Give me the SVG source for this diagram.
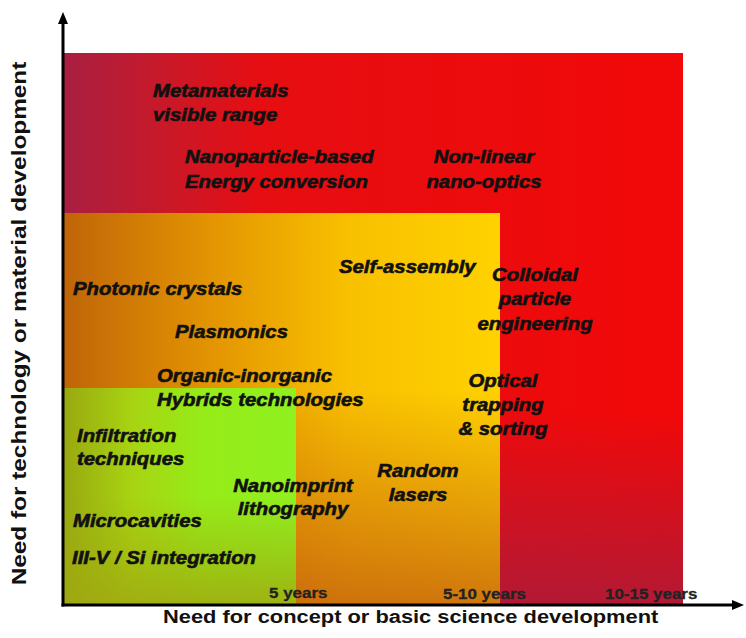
<svg xmlns="http://www.w3.org/2000/svg" width="746" height="638" viewBox="0 0 746 638">
<style>
.lbl{font-family:"Liberation Sans",Arial,sans-serif;font-weight:bold;font-style:italic;font-size:18px;fill:#111;stroke:#111;stroke-width:0.6}
.yrs{font-family:"Liberation Sans",Arial,sans-serif;font-weight:bold;font-size:15px;fill:#222;stroke:#222;stroke-width:0.3}
.ttl{font-family:"Liberation Sans",Arial,sans-serif;font-weight:bold;fill:#111}
.axis{stroke:#000;stroke-width:3;fill:none}
</style>
<defs>
<linearGradient id="gRed" x1="0" y1="0" x2="1" y2="0">
<stop offset="0" stop-color="#a81f42"/>
<stop offset="0.14" stop-color="#c41a2c"/>
<stop offset="0.32" stop-color="#e60e12"/>
<stop offset="1" stop-color="#f20808"/>
</linearGradient>
<linearGradient id="gRedV" x1="0" y1="0" x2="0" y2="1">
<stop offset="0.65" stop-color="#a81c3c" stop-opacity="0"/>
<stop offset="1" stop-color="#a81c3c" stop-opacity="0.85"/>
</linearGradient>
<linearGradient id="gOr" x1="0" y1="0" x2="1" y2="0">
<stop offset="0" stop-color="#c06408"/>
<stop offset="0.35" stop-color="#e49602"/>
<stop offset="0.65" stop-color="#f8c000"/>
<stop offset="1" stop-color="#ffd200"/>
</linearGradient>
<linearGradient id="gOrV" x1="0" y1="0" x2="0" y2="1">
<stop offset="0.45" stop-color="#c05810" stop-opacity="0"/>
<stop offset="1" stop-color="#c05810" stop-opacity="0.75"/>
</linearGradient>
<linearGradient id="gGr" x1="0" y1="0" x2="1" y2="0">
<stop offset="0" stop-color="#98a810"/>
<stop offset="0.3" stop-color="#a8d412"/>
<stop offset="0.6" stop-color="#96ec18"/>
<stop offset="1" stop-color="#90f020"/>
</linearGradient>
<linearGradient id="gGrV" x1="0" y1="0" x2="0" y2="1">
<stop offset="0.5" stop-color="#a0a810" stop-opacity="0"/>
<stop offset="1" stop-color="#a0a810" stop-opacity="0.85"/>
</linearGradient>
<marker id="arr" viewBox="0 0 12 10" refX="1" refY="5" markerWidth="12" markerHeight="10" markerUnits="userSpaceOnUse" orient="auto">
<path d="M0,0 L12,5 L0,10 Z" fill="#000"/>
</marker>
</defs>
<rect width="746" height="638" fill="#fff"/>
<g id="zone-10-15">
<rect x="63" y="53" width="620" height="552" fill="url(#gRed)"/>
<rect x="63" y="53" width="620" height="552" fill="url(#gRedV)"/>
</g>
<g id="zone-5-10">
<rect x="63" y="213" width="437" height="392" fill="url(#gOr)"/>
<rect x="63" y="213" width="437" height="392" fill="url(#gOrV)"/>
</g>
<g id="zone-5">
<rect x="63" y="388" width="233" height="217" fill="url(#gGr)"/>
<rect x="63" y="388" width="233" height="217" fill="url(#gGrV)"/>
</g>
<g id="axes">
<line class="axis" x1="63" y1="606.5" x2="63" y2="23" marker-end="url(#arr)"/>
<line class="axis" x1="61.5" y1="605" x2="733" y2="605" marker-end="url(#arr)"/>
</g>
<g id="n-metamaterials"><text class="lbl" transform="translate(153,97) scale(1.13,1)"><tspan x="0" y="0">Metamaterials</tspan><tspan x="0" y="24">visible range</tspan></text></g>
<g id="n-nanoparticle"><text class="lbl" transform="translate(185,163) scale(1.13,1)"><tspan x="0" y="0">Nanoparticle-based</tspan><tspan x="0" y="25">Energy conversion</tspan></text></g>
<g id="n-nonlinear"><text class="lbl" text-anchor="middle" transform="translate(484,163) scale(1.13,1)"><tspan x="0" y="0">Non-linear</tspan><tspan x="0" y="25">nano-optics</tspan></text></g>
<g id="n-selfassembly"><text class="lbl" transform="translate(339,273) scale(1.13,1)">Self-assembly</text></g>
<g id="n-colloidal"><text class="lbl" text-anchor="middle" transform="translate(535,281) scale(1.13,1)"><tspan x="0" y="0">Colloidal</tspan><tspan x="0" y="24">particle</tspan><tspan x="0" y="49">engineering</tspan></text></g>
<g id="n-photonic"><text class="lbl" transform="translate(73,295) scale(1.13,1)">Photonic crystals</text></g>
<g id="n-plasmonics"><text class="lbl" transform="translate(175,338) scale(1.13,1)">Plasmonics</text></g>
<g id="n-organic"><text class="lbl" transform="translate(157,382) scale(1.13,1)"><tspan x="0" y="0">Organic-inorganic</tspan><tspan x="0" y="24">Hybrids technologies</tspan></text></g>
<g id="n-optical"><text class="lbl" text-anchor="middle" transform="translate(503,387) scale(1.13,1)"><tspan x="0" y="0">Optical</tspan><tspan x="0" y="24">trapping</tspan><tspan x="0" y="48">&amp; sorting</tspan></text></g>
<g id="n-infiltration"><text class="lbl" transform="translate(77,442) scale(1.13,1)"><tspan x="0" y="0">Infiltration</tspan><tspan x="0" y="23">techniques</tspan></text></g>
<g id="n-random"><text class="lbl" text-anchor="middle" transform="translate(418,477) scale(1.13,1)"><tspan x="0" y="0">Random</tspan><tspan x="0" y="24">lasers</tspan></text></g>
<g id="n-nanoimprint"><text class="lbl" text-anchor="middle" transform="translate(293,492) scale(1.13,1)"><tspan x="0" y="0">Nanoimprint</tspan><tspan x="0" y="23">lithography</tspan></text></g>
<g id="n-microcavities"><text class="lbl" transform="translate(73,527) scale(1.13,1)">Microcavities</text></g>
<g id="n-iiiv"><text class="lbl" transform="translate(72,564) scale(1.13,1)">III-V / Si integration</text></g>
<g id="ticks">
<text class="yrs" transform="translate(269,598) scale(1.13,1)">5 years</text>
<text class="yrs" transform="translate(443,599) scale(1.13,1)">5-10 years</text>
<text class="yrs" transform="translate(605,599) scale(1.13,1)">10-15 years</text>
</g>
<g id="axis-titles">
<text class="ttl" font-size="19" transform="translate(163,623) scale(1.15,1)">Need for concept or basic science development</text>
<text class="ttl" font-size="21" text-anchor="middle" transform="translate(26,323.5) rotate(-90) scale(1.16,1)">Need for technology or material development</text>
</g>
</svg>
